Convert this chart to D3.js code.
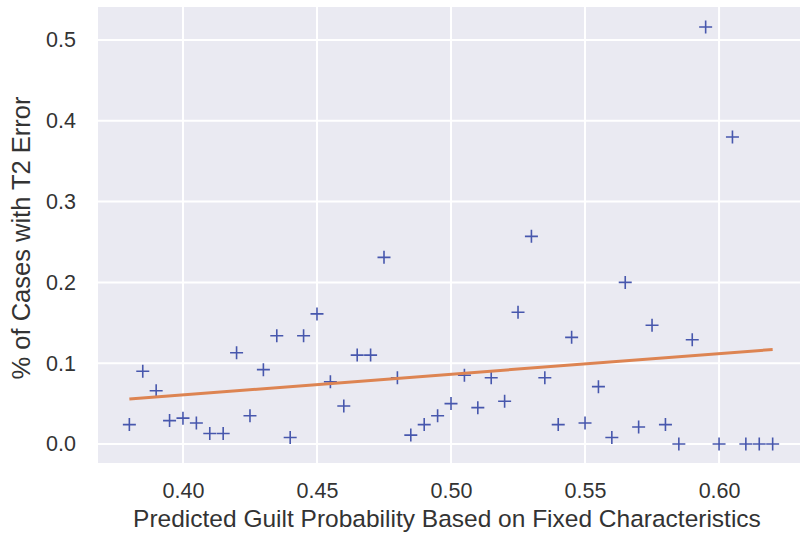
<!DOCTYPE html>
<html>
<head>
<meta charset="utf-8">
<script src="https://cdn.jsdelivr.net/npm/d3@7"></script>
<style>
  html, body { margin: 0; padding: 0; background: #ffffff; }
  svg { display: block; }
  text { font-family: "Liberation Sans", Arial, sans-serif; }
</style>
</head>
<body>
<svg id="chart" width="800" height="535"></svg>
<script>
// ---- data ----
const guiltProb = [0.380, 0.385, 0.390, 0.395, 0.400, 0.405, 0.410, 0.415, 0.420, 0.425,
                   0.430, 0.435, 0.440, 0.445, 0.450, 0.455, 0.460, 0.465, 0.470, 0.475,
                   0.480, 0.485, 0.490, 0.495, 0.500, 0.505, 0.510, 0.515, 0.520, 0.525,
                   0.530, 0.535, 0.540, 0.545, 0.550, 0.555, 0.560, 0.565, 0.570, 0.575,
                   0.580, 0.585, 0.590, 0.595, 0.600, 0.605, 0.610, 0.615, 0.620];
const t2Error   = [0.024, 0.090, 0.066, 0.029, 0.032, 0.026, 0.013, 0.013, 0.113, 0.035,
                   0.092, 0.134, 0.008, 0.134, 0.161, 0.077, 0.047, 0.110, 0.110, 0.231,
                   0.082, 0.011, 0.024, 0.035, 0.050, 0.085, 0.045, 0.082, 0.053, 0.163,
                   0.257, 0.082, 0.024, 0.132, 0.026, 0.071, 0.008, 0.200, 0.021, 0.147,
                   0.024, 0.000, 0.129, 0.516, 0.000, 0.380, 0.000, 0.000, 0.000];
const trendX = [0.380, 0.620];
const trendY = [0.0557, 0.1170];
const xTicks = [0.40, 0.45, 0.50, 0.55, 0.60];
const yTicks = [0.0, 0.1, 0.2, 0.3, 0.4, 0.5];
const xLabel = "Predicted Guilt Probability Based on Fixed Characteristics";
const yLabel = "% of Cases with T2 Error";

// ---- layout ----
const W = 800, H = 535;
const margin = {left: 98, right: 0, top: 7, bottom: 72};
const svg = d3.select("#chart");
const textColor = "#333333";

const x = d3.scaleLinear().domain([0.3683, 0.6302]).range([margin.left, W - margin.right]);
const y = d3.scaleLinear().domain([-0.0235, 0.5408]).range([H - margin.bottom, margin.top]);

// background
svg.append("rect")
  .attr("x", margin.left).attr("y", margin.top)
  .attr("width", W - margin.left - margin.right)
  .attr("height", H - margin.top - margin.bottom)
  .attr("fill", "#EAEAF2");

// grid
const grid = svg.append("g");
grid.selectAll(".vg").data(xTicks).join("line")
  .attr("x1", d => x(d)).attr("x2", d => x(d))
  .attr("y1", margin.top).attr("y2", H - margin.bottom)
  .attr("stroke", "#ffffff").attr("stroke-width", 2);
grid.selectAll(".hg").data(yTicks).join("line")
  .attr("y1", d => y(d)).attr("y2", d => y(d))
  .attr("x1", margin.left).attr("x2", W - margin.right)
  .attr("stroke", "#ffffff").attr("stroke-width", 2);

// axes
const xAxis = svg.append("g")
  .attr("transform", `translate(0,${H - margin.bottom})`)
  .call(d3.axisBottom(x).tickValues(xTicks).tickFormat(d3.format(".2f")).tickSize(0).tickPadding(20));
const yAxis = svg.append("g")
  .attr("transform", `translate(${margin.left},0)`)
  .call(d3.axisLeft(y).tickValues(yTicks).tickFormat(d3.format(".1f")).tickSize(0).tickPadding(22));
[xAxis, yAxis].forEach(a => {
  a.select(".domain").remove();
  a.selectAll("text").attr("font-size", 21.5).attr("fill", textColor)
    .attr("font-family", "'Liberation Sans', Arial, sans-serif");
});

// points (plus markers)
const ms = 6.5;
const pts = svg.append("g");
const data = guiltProb.map((g, i) => ({x: g, y: t2Error[i]}));
pts.selectAll("path").data(data).join("path")
  .attr("d", d => {
    const cx = x(d.x), cy = y(d.y);
    return `M${cx - ms},${cy}H${cx + ms}M${cx},${cy - ms}V${cy + ms}`;
  })
  .attr("stroke", "#4757AD").attr("stroke-width", 1.6).attr("fill", "none");

// trend line
svg.append("path")
  .datum(trendX.map((t, i) => [t, trendY[i]]))
  .attr("d", d3.line().x(d => x(d[0])).y(d => y(d[1])))
  .attr("stroke", "#DD8452").attr("stroke-width", 3).attr("fill", "none");

// labels
svg.append("text")
  .attr("x", 447).attr("y", 527)
  .attr("text-anchor", "middle").attr("font-size", 24.5).attr("fill", textColor)
  .text(xLabel);
svg.append("text")
  .attr("transform", `translate(30,238) rotate(-90)`)
  .attr("text-anchor", "middle").attr("font-size", 25.5).attr("fill", textColor)
  .text(yLabel);
</script>
</body>
</html>
